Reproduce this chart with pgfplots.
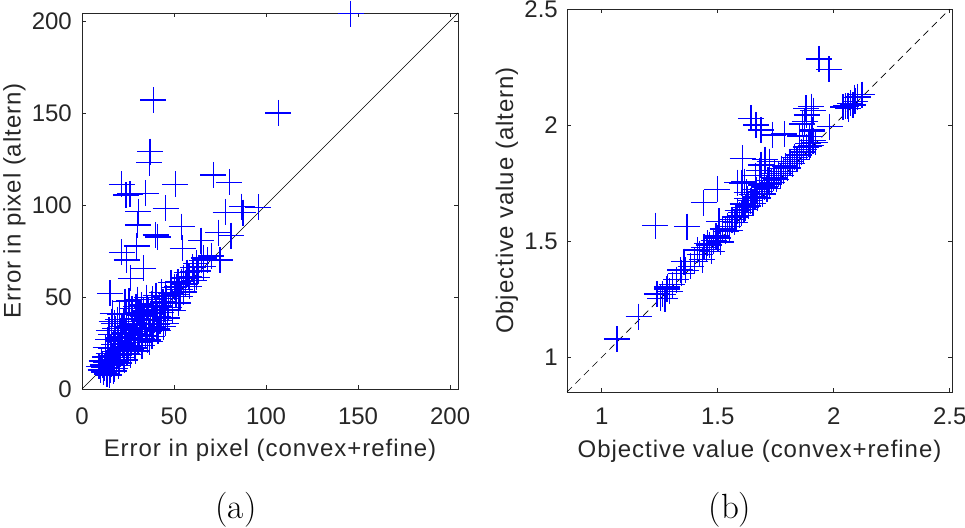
\documentclass[border=0pt]{standalone}
\usepackage{fontspec}
\newfontfamily\axf{Liberation Sans}
\newfontfamily\labf[LetterSpace=4]{Liberation Sans}
\usepackage{pgfplots}
\pgfplotsset{compat=1.18}
\definecolor{axgray}{gray}{0.15}
\pgfplotsset{myax/.style={
  scale only axis, clip=false,
  axis line style={draw=axgray, line width=0.7bp},
  every tick/.style={draw=axgray, line width=0.7bp},
  major tick length=4.3bp,
  tick align=inside,
  /pgf/number format/assume math mode=true,
  ticklabel style={font=\axf\fontsize{24bp}{28bp}\selectfont, text=axgray, inner sep=0pt},
  label style={font=\labf\fontsize{24bp}{28bp}\selectfont, text=axgray, inner sep=0pt},
  xticklabel style={anchor=base},
  yticklabel style={anchor=east},
},
crosses/.style={only marks, mark=+, mark size=13bp,
  mark options={draw=blue, line width=1.3bp}}}
\begin{document}
\begin{tikzpicture}
\path[use as bounding box] (0,0) rectangle (965bp,528bp);
\begin{axis}[myax, at={(82bp,139bp)}, anchor=south west,
  width=376bp, height=376bp,
  xmin=0, xmax=204.3, ymin=0, ymax=204.3,
  xtick={0,50,100,150,200}, ytick={0,50,100,150,200},
  xticklabel style={yshift=-36bp}, yticklabel style={xshift=-10bp},
  xlabel={Error in pixel (convex+refine)}, ylabel={Error in pixel (altern)},
  xlabel style={at={(axis description cs:0.5,-0.180)}, anchor=base},
  ylabel style={at={(axis description cs:-0.163,0.5)}, anchor=base},
]
\addplot[draw=black, line width=0.7bp] coordinates {(0,0) (204.3,204.3)};
\addplot[crosses] table {
x y
146 204
38.8 157
106.7 150
37 129
36.5 123
71.4 116.3
80 112.3
50.7 111.2
21.6 111.2
26.1 105.9
23.9 105.4
34.6 106.3
45.5 98.2
30.6 96.4
30.3 89.1
54.2 88.2
40 83.7
41.1 82.6
54.7 76.5
29.7 77.7
21.6 74.3
24.3 70.1
33.3 65.6
26.5 60.2
15.2 52
16.7 41.1
16.1 36.6
23.4 47.5
64.7 80.6
74.1 85
78.1 96
86.8 99.1
87.4 95.8
95.8 98.7
81 83.3
75 70.1
65 70
65.9 66.5
60.5 63.8
61.1 59
54.2 58.3
51.5 55.6
53.3 50.1
44.2 33.9
9.2 12.3
10.1 10.4
10.6 15.2
11.3 13.1
11.8 9.3
12.2 11.5
12.7 17.4
13.1 14.3
13.6 8.2
14.0 12.6
14.4 19.1
15.0 15.4
15.3 10.2
15.7 22.3
16.2 13.4
16.6 18.2
17.1 16.1
17.4 24.2
17.8 11.1
18.2 20.3
18.6 15.0
19.1 18.4
19.5 26.1
20.2 14.1
20.6 22.4
21.0 19.2
21.4 28.3
22.1 24.4
22.5 17.3
23.0 21.2
23.3 30.4
24.1 26.2
24.5 19.4
25.0 23.1
25.4 33.2
26.0 28.1
26.4 21.4
27.0 25.2
27.4 35.3
28.1 30.1
28.6 22.2
29.1 27.3
29.5 38.1
30.0 32.3
30.4 25.4
31.1 29.4
31.5 40.2
32.0 35.1
32.4 27.1
33.0 31.1
33.5 42.3
34.0 37.2
34.4 29.2
35.0 33.3
35.4 44.2
36.0 39.4
36.5 31.3
37.2 35.4
37.6 46.3
38.2 41.2
38.6 33.1
39.2 37.3
40.0 43.2
40.5 35.2
41.1 39.3
42.0 45.1
42.4 37.1
43.1 41.4
44.0 47.3
45.0 43.3
46.1 49.2
47.0 44.4
48.1 52.1
49.0 47.1
50.1 55.2
51.0 51.3
52.1 58.1
53.0 54.2
55.0 60.3
56.1 57.1
57.1 63.2
58.2 61.1
60.1 66.2
62.1 68.3
63.1 64.1
66.2 71.2
68.1 70.2
70.2 72.3
12.9 22.7
14.2 26.8
16.0 29.6
18.0 32.7
20.0 27.7
21.8 33.8
19.3 37.7
20.8 31.7
22.8 36.7
24.3 40.7
25.2 30.8
27.2 43.7
28.4 34.7
29.3 44.8
30.2 48.6
32.2 45.7
33.2 39.7
35.2 49.7
36.2 42.7
38.4 48.8
40.2 50.7
43.3 52.6
45.2 50.6
48.3 57.7
20.4 40.8
25.6 47.8
30.6 41.7
14.6 31.8
17.6 35.7
14.8 7.6
17.3 9.7
19.8 12.7
23.2 15.7
26.2 18.7
29.2 20.6
32.6 23.6
35.6 26.6
38.0 28.7
41.3 31.6
45.4 35.6
46.4 38.6
49.3 42.7
52.4 46.7
55.3 52.7
58.4 55.7
62.4 60.6
40.8 32.6
36.8 25.7
};
\end{axis}
\begin{axis}[myax, at={(567bp,136bp)}, anchor=south west,
  width=385bp, height=383bp,
  xmin=0.85, xmax=2.51, ymin=0.85, ymax=2.501,
  xtick={1,1.5,2,2.5}, ytick={1,1.5,2,2.5},
  xticklabel style={yshift=-33bp}, yticklabel style={xshift=-9bp},
  xlabel={Objective value (convex+refine)}, ylabel={Objective value (altern)},
  xlabel style={at={(axis description cs:0.5,-0.1705)}, anchor=base},
  ylabel style={at={(axis description cs:-0.140,0.5)}, anchor=base},
]
\addplot[draw=black, line width=0.7bp, dash pattern=on 7bp off 5bp] coordinates {(0.85,0.85) (2.5,2.5)};
\addplot[crosses] table {
x y
1.936 2.286
1.98 2.241
2.091 2.119
2.04 2.078
2.062 2.084
1.982 1.994
1.903 2.080
1.881 2.073
1.874 2.016
1.906 1.98
1.896 1.951
1.895 1.908
1.643 2.03
1.665 2.001
1.686 1.98
1.737 1.958
1.787 1.962
1.607 1.858
1.686 1.829
1.498 1.724
1.585 1.753
1.614 1.757
1.44 1.666
1.231 1.567
1.368 1.563
1.505 1.585
1.065 1.078
1.159 1.175
1.354 1.412
1.339 1.376
1.238 1.272
1.253 1.254
1.282 1.302
1.412 1.462
1.455 1.491
1.262 1.271
1.273 1.253
1.281 1.294
1.292 1.284
1.304 1.312
1.322 1.334
1.343 1.362
1.361 1.375
1.383 1.392
1.401 1.413
1.422 1.444
1.433 1.421
1.441 1.473
1.452 1.465
1.463 1.484
1.474 1.457
1.482 1.503
1.493 1.522
1.501 1.514
1.512 1.496
1.521 1.553
1.534 1.542
1.543 1.564
1.551 1.547
1.562 1.593
1.573 1.581
1.578 1.604
1.586 1.632
1.594 1.612
1.602 1.623
1.607 1.661
1.613 1.638
1.621 1.644
1.626 1.683
1.632 1.652
1.641 1.674
1.646 1.702
1.652 1.664
1.661 1.693
1.666 1.722
1.672 1.686
1.681 1.713
1.688 1.742
1.693 1.704
1.702 1.734
1.712 1.726
1.716 1.763
1.723 1.746
1.732 1.754
1.741 1.772
1.746 1.793
1.753 1.767
1.762 1.791
1.771 1.783
1.776 1.812
1.782 1.802
1.792 1.824
1.801 1.815
1.812 1.843
1.822 1.834
1.832 1.862
1.842 1.853
1.852 1.872
1.862 1.884
1.871 1.895
1.882 1.906
1.891 1.921
1.901 1.914
1.911 1.933
1.921 1.926
2.052 2.083
2.071 2.094
2.092 2.103
2.103 2.122
2.122 2.132
2.063 2.072
2.083 2.087
1.604 1.751
1.624 1.711
1.663 1.782
1.704 1.852
1.724 1.843
1.679 1.804
1.884 2.044
1.912 2.063
1.864 2.005
1.853 1.954
1.908 1.973
};
\end{axis}
\node[anchor=base, font=\fontsize{35bp}{40bp}\selectfont] at (236bp,10bp) {(a)};
\node[anchor=base, font=\fontsize{35bp}{40bp}\selectfont] at (730bp,10bp) {(b)};
\end{tikzpicture}
\end{document}
